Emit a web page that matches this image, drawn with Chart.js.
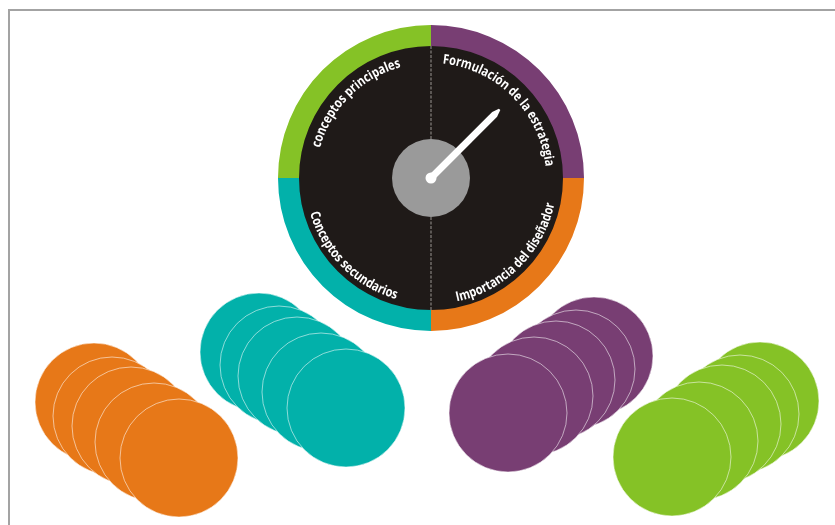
<!DOCTYPE html>
<html>
<head>
<meta charset="utf-8">
<script src="https://cdn.jsdelivr.net/npm/chart.js@4.4.0/dist/chart.umd.min.js"></script>
<style>
  html, body { margin: 0; padding: 0; background: #fff; }
  #wrap { position: relative; width: 835px; height: 525px; overflow: hidden; }
  #frame { position: absolute; left: 8px; top: 9px; width: 900px; height: 600px;
           border-left: 2px solid #a3a3a3; border-top: 2px solid #a3a3a3; }
  canvas { position: absolute; left: 0; top: 0; }
</style>
</head>
<body>
<div id="wrap">
  <div id="frame"></div>
  <canvas id="coins" width="835" height="525"></canvas>
  <canvas id="dial" width="835" height="525"></canvas>
</div>
<script>
// dial sections, clockwise from 12 o'clock
const sections = ['Formulación de la estrategia', 'Importancia del diseñador', 'Conceptos secundarios', 'conceptos principales'];
const sectionValues = [25, 25, 25, 25];
const sectionColors = ['#783e73', '#e77818', '#02b1aa', '#85c226'];
const needleValue = 12.5; // share of the full turn, same unit as sectionValues

// coin stacks, listed back to front (x, y in page units)
const orangeX = [94, 112, 131, 154, 179];
const orangeY = [402, 416, 426, 442, 458];
const tealX = [259, 279, 297, 321, 346];
const tealY = [352, 365, 376, 392, 408];
const purpleX = [594, 576, 556, 534, 508];
const purpleY = [356, 369, 380, 396, 413];
const greenX = [760, 740, 722, 699, 672];
const greenY = [401, 414, 424, 441, 457];

const toPoints = (xs, ys) => xs.map((x, i) => ({ x: x, y: ys[i] }));

const coinSet = (label, xs, ys, color) => ({
  label: label,
  data: toPoints(xs, ys),
  backgroundColor: color,
  borderColor: 'rgba(255,255,255,0.55)',
  borderWidth: 1,
  pointRadius: 59,
  pointHoverRadius: 59,
  clip: false
});

new Chart(document.getElementById('coins'), {
  type: 'scatter',
  data: {
    datasets: [
      coinSet('orange', orangeX, orangeY, '#e77818'),
      coinSet('teal', tealX, tealY, '#02b1aa'),
      coinSet('purple', purpleX, purpleY, '#783e73'),
      coinSet('green', greenX, greenY, '#85c226')
    ]
  },
  options: {
    responsive: false,
    animation: false,
    events: [],
    layout: { padding: 0, autoPadding: false },
    plugins: { legend: { display: false }, tooltip: { enabled: false } },
    scales: {
      x: { type: 'linear', min: 0, max: 835, display: false },
      y: { type: 'linear', min: 0, max: 525, reverse: true, display: false }
    }
  }
});

// text bent along a circle
function arcText(ctx, text, cx, cy, r, mid, outward, sx) {
  const widths = [...text].map(ch => ctx.measureText(ch).width * sx);
  const total = widths.reduce((a, b) => a + b, 0);
  let a = outward ? mid - total / r / 2 : mid + total / r / 2;
  [...text].forEach((ch, i) => {
    const w = widths[i];
    const ac = outward ? a + w / 2 / r : a - w / 2 / r;
    ctx.save();
    ctx.translate(cx + r * Math.cos(ac), cy + r * Math.sin(ac));
    ctx.rotate(outward ? ac + Math.PI / 2 : ac - Math.PI / 2);
    ctx.scale(sx, 1);
    ctx.fillText(ch, 0, 0);
    ctx.restore();
    a += outward ? w / r : -w / r;
  });
}

const dialPlugin = {
  id: 'dialFace',
  beforeDatasetsDraw(chart) {
    const ctx = chart.ctx;
    const arc = chart.getDatasetMeta(0).data[0];
    ctx.save();
    ctx.fillStyle = '#1f1a18';
    ctx.beginPath();
    ctx.arc(arc.x, arc.y, arc.innerRadius + 1, 0, Math.PI * 2);
    ctx.fill();
    ctx.restore();
  },
  afterDatasetsDraw(chart) {
    const ctx = chart.ctx;
    const arcs = chart.getDatasetMeta(0).data;
    const cx = arcs[0].x, cy = arcs[0].y, rIn = arcs[0].innerRadius;

    // divider
    ctx.save();
    ctx.strokeStyle = '#85817e';
    ctx.lineWidth = 1.2;
    ctx.setLineDash([3, 1.5]);
    ctx.beginPath();
    ctx.moveTo(cx, cy - rIn);
    ctx.lineTo(cx, cy + rIn);
    ctx.stroke();
    ctx.restore();

    // hub
    ctx.fillStyle = '#9a9a9a';
    ctx.beginPath();
    ctx.arc(cx, cy, 39, 0, Math.PI * 2);
    ctx.fill();

    // needle
    const sum = sectionValues.reduce((a, b) => a + b, 0);
    const ang = arcs[0].startAngle + needleValue / sum * Math.PI * 2;
    ctx.save();
    ctx.translate(cx, cy);
    ctx.rotate(ang);
    ctx.fillStyle = '#ffffff';
    ctx.beginPath();
    ctx.moveTo(0, -3.5);
    ctx.lineTo(90, -3.5);
    ctx.lineTo(97, -1);
    ctx.lineTo(97, 1);
    ctx.lineTo(90, 3.5);
    ctx.lineTo(0, 3.5);
    ctx.closePath();
    ctx.fill();
    ctx.beginPath();
    ctx.arc(0, 0, 5.5, 0, Math.PI * 2);
    ctx.fill();
    ctx.restore();

    // section names
    ctx.save();
    ctx.fillStyle = '#ffffff';
    ctx.font = 'bold 13.5px "Open Sans"';
    ctx.textAlign = 'center';
    ctx.textBaseline = 'alphabetic';
    arcs.forEach((el, i) => {
      const mid = (el.startAngle + el.endAngle) / 2;
      const top = Math.sin(mid) < 0;
      arcText(ctx, chart.data.labels[i], cx, cy, top ? 115 : 126, mid, top, 0.82);
    });
    ctx.restore();
  }
};

new Chart(document.getElementById('dial'), {
  type: 'doughnut',
  data: {
    labels: sections,
    datasets: [{
      data: sectionValues,
      backgroundColor: sectionColors,
      borderWidth: 0
    }]
  },
  options: {
    responsive: false,
    animation: false,
    events: [],
    cutout: 132,
    layout: { padding: { left: 278, top: 25, right: 251, bottom: 194 } },
    plugins: { legend: { display: false }, tooltip: { enabled: false } }
  },
  plugins: [dialPlugin]
});
</script>
</body>
</html>
